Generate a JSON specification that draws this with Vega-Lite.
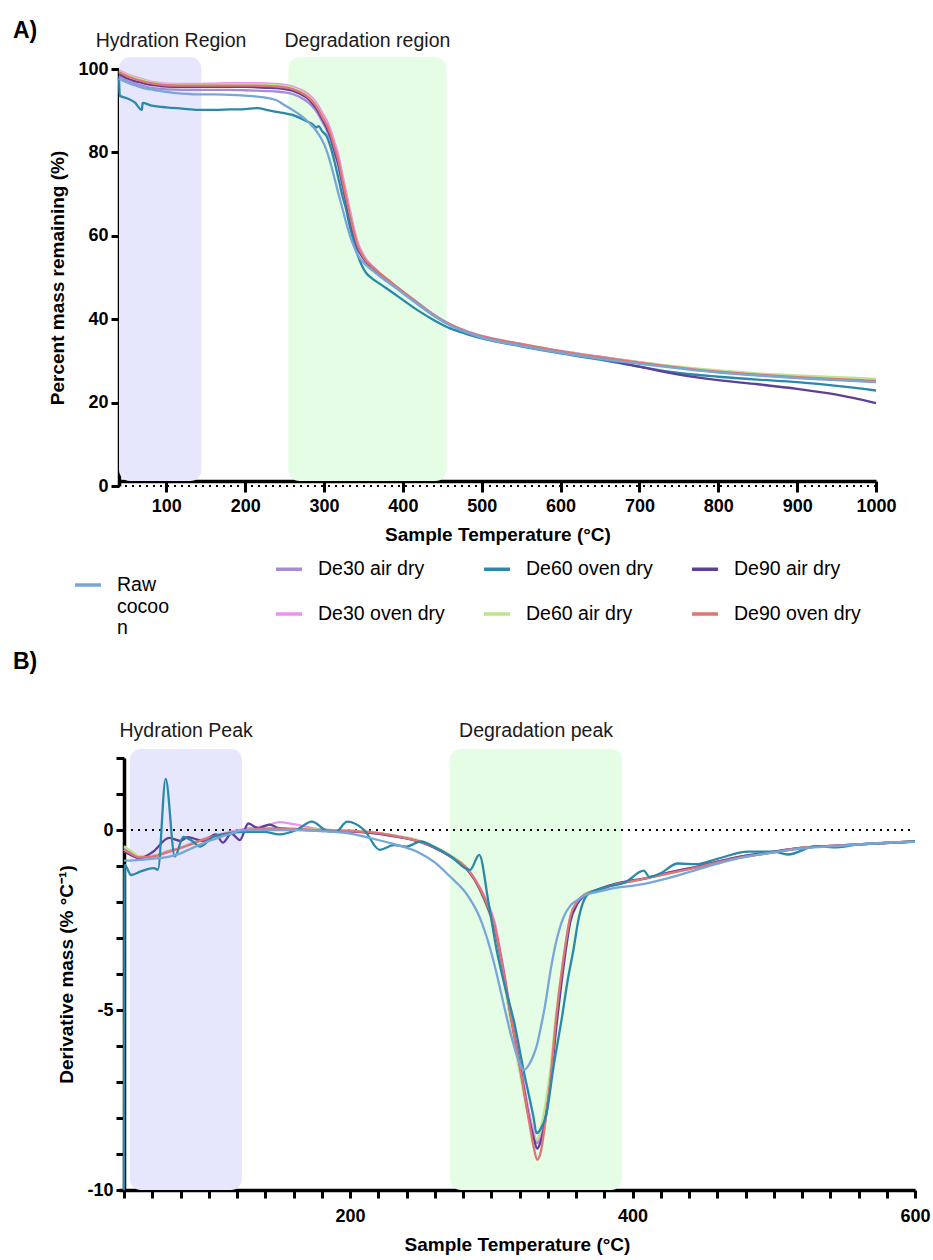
{
  "$schema": "https://vega.github.io/schema/vega-lite/v6.json",
  "background": "white",
  "padding": {"left": 13, "top": 20, "right": 10, "bottom": 5},
  "bounds": "flush",
  "spacing": 272,
  "config": {
    "font": "Liberation Sans",
    "view": {"stroke": null},
    "axis": {"grid": false, "domainColor": "black", "domainWidth": 3.5, "tickColor": "black", "tickWidth": 3, "labelFont": "Liberation Sans", "labelFontWeight": "bold", "labelFontSize": 18, "labelColor": "black", "titleFont": "Liberation Sans", "titleFontWeight": "bold", "titleFontSize": 19, "titleColor": "black", "labelFlush": false, "labelOverlap": false},
    "legend": {"labelFont": "Liberation Sans", "labelFontSize": 19.5, "labelColor": "black", "symbolType": "stroke", "symbolSize": 676, "symbolStrokeWidth": 3.5, "labelOffset": 14, "title": null}
  },
  "datasets": {
    "tga": [
      {"T":40,"Raw cocoon":97.6,"De30 air dry":98.3,"De30 oven dry":99.6,"De60 oven dry":98.0,"De60 air dry":99.4,"De90 air dry":98.8,"De90 oven dry":99.2},
      {"T":41,"De60 oven dry":93.6},
      {"T":50,"Raw cocoon":96.8,"De30 air dry":97.2,"De30 oven dry":98.8,"De60 oven dry":93.0,"De60 air dry":98.6,"De90 air dry":97.8,"De90 oven dry":98.3},
      {"T":60,"Raw cocoon":96.1,"De30 air dry":96.5,"De30 oven dry":98.1,"De60 oven dry":92.0,"De60 air dry":97.9,"De90 air dry":97.1,"De90 oven dry":97.6},
      {"T":69,"Raw cocoon":95.5,"De30 air dry":96.0,"De30 oven dry":97.6,"De60 oven dry":90.2,"De60 air dry":97.4,"De90 air dry":96.7,"De90 oven dry":97.1},
      {"T":70,"De60 oven dry":91.9},
      {"T":80,"Raw cocoon":95.1,"De30 air dry":95.5,"De30 oven dry":97.0,"De60 oven dry":91.3,"De60 air dry":96.8,"De90 air dry":96.2,"De90 oven dry":96.6},
      {"T":90,"Raw cocoon":94.8,"De30 air dry":95.3,"De30 oven dry":96.7,"De60 oven dry":91.0,"De60 air dry":96.5,"De90 air dry":96.0,"De90 oven dry":96.3},
      {"T":100,"Raw cocoon":94.5,"De30 air dry":95.1,"De30 oven dry":96.5,"De60 oven dry":90.8,"De60 air dry":96.3,"De90 air dry":95.8,"De90 oven dry":96.1},
      {"T":120,"Raw cocoon":94.1,"De30 air dry":95.0,"De30 oven dry":96.4,"De60 oven dry":90.5,"De60 air dry":96.2,"De90 air dry":95.7,"De90 oven dry":96.0},
      {"T":140,"Raw cocoon":93.9,"De30 air dry":95.0,"De30 oven dry":96.4,"De60 oven dry":90.2,"De60 air dry":96.2,"De90 air dry":95.7,"De90 oven dry":96.0},
      {"T":160,"Raw cocoon":93.9,"De30 air dry":95.0,"De30 oven dry":96.5,"De60 oven dry":90.2,"De60 air dry":96.2,"De90 air dry":95.7,"De90 oven dry":96.0},
      {"T":180,"Raw cocoon":93.8,"De30 air dry":95.0,"De30 oven dry":96.6,"De60 oven dry":90.3,"De60 air dry":96.3,"De90 air dry":95.7,"De90 oven dry":96.0},
      {"T":200,"Raw cocoon":93.6,"De30 air dry":94.9,"De30 oven dry":96.6,"De60 oven dry":90.4,"De60 air dry":96.3,"De90 air dry":95.7,"De90 oven dry":96.0},
      {"T":215,"Raw cocoon":93.4,"De30 air dry":94.8,"De30 oven dry":96.6,"De60 oven dry":90.6,"De60 air dry":96.3,"De90 air dry":95.6,"De90 oven dry":96.0},
      {"T":230,"Raw cocoon":93.0,"De30 air dry":94.7,"De30 oven dry":96.5,"De60 oven dry":90.1,"De60 air dry":96.2,"De90 air dry":95.5,"De90 oven dry":95.9},
      {"T":240,"Raw cocoon":92.5,"De30 air dry":94.6,"De30 oven dry":96.4,"De60 oven dry":89.7,"De60 air dry":96.1,"De90 air dry":95.4,"De90 oven dry":95.8},
      {"T":250,"Raw cocoon":91.3,"De30 air dry":94.4,"De30 oven dry":96.2,"De60 oven dry":89.4,"De60 air dry":95.9,"De90 air dry":95.2,"De90 oven dry":95.6},
      {"T":260,"Raw cocoon":90.2,"De30 air dry":94.0,"De30 oven dry":95.8,"De60 oven dry":89.0,"De60 air dry":95.5,"De90 air dry":94.8,"De90 oven dry":95.2},
      {"T":270,"Raw cocoon":88.9,"De30 air dry":93.2,"De30 oven dry":95.1,"De60 oven dry":88.2,"De60 air dry":94.7,"De90 air dry":94.0,"De90 oven dry":94.4},
      {"T":280,"Raw cocoon":87.3,"De30 air dry":92.0,"De30 oven dry":94.0,"De60 oven dry":87.3,"De60 air dry":93.5,"De90 air dry":92.8,"De90 oven dry":93.2},
      {"T":285,"Raw cocoon":86.3,"De30 air dry":91.1,"De30 oven dry":93.1,"De60 oven dry":86.8,"De60 air dry":92.6,"De90 air dry":91.8,"De90 oven dry":92.3},
      {"T":290,"Raw cocoon":85.2,"De30 air dry":89.9,"De30 oven dry":92.0,"De60 oven dry":86.0,"De60 air dry":91.4,"De90 air dry":90.6,"De90 oven dry":91.1},
      {"T":293,"Raw cocoon":84.4,"De30 air dry":89.0,"De30 oven dry":91.1,"De60 oven dry":86.3,"De60 air dry":90.4,"De90 air dry":89.7,"De90 oven dry":90.2},
      {"T":298,"Raw cocoon":82.8,"De30 air dry":87.3,"De30 oven dry":89.4,"De60 oven dry":85.0,"De60 air dry":88.6,"De90 air dry":87.9,"De90 oven dry":88.4},
      {"T":303,"Raw cocoon":80.6,"De30 air dry":85.5,"De30 oven dry":87.8,"De60 oven dry":84.0,"De60 air dry":86.9,"De90 air dry":86.1,"De90 oven dry":86.8},
      {"T":308,"Raw cocoon":77.6,"De30 air dry":83.2,"De30 oven dry":85.6,"De60 oven dry":81.5,"De60 air dry":84.6,"De90 air dry":83.8,"De90 oven dry":84.5},
      {"T":313,"Raw cocoon":74.0,"De30 air dry":80.0,"De30 oven dry":82.6,"De60 oven dry":78.0,"De60 air dry":81.4,"De90 air dry":80.6,"De90 oven dry":81.4},
      {"T":318,"Raw cocoon":70.3,"De30 air dry":76.8,"De30 oven dry":79.5,"De60 oven dry":74.0,"De60 air dry":78.2,"De90 air dry":77.3,"De90 oven dry":78.2},
      {"T":323,"Raw cocoon":66.8,"De30 air dry":72.4,"De30 oven dry":75.0,"De60 oven dry":69.8,"De60 air dry":73.8,"De90 air dry":72.8,"De90 oven dry":73.7},
      {"T":328,"Raw cocoon":63.2,"De30 air dry":68.0,"De30 oven dry":70.5,"De60 oven dry":66.4,"De60 air dry":69.3,"De90 air dry":68.4,"De90 oven dry":69.2},
      {"T":333,"Raw cocoon":60.0,"De30 air dry":63.8,"De30 oven dry":66.0,"De60 oven dry":62.0,"De60 air dry":64.9,"De90 air dry":64.1,"De90 oven dry":64.8},
      {"T":338,"Raw cocoon":57.4,"De30 air dry":60.0,"De30 oven dry":61.8,"De60 oven dry":58.5,"De60 air dry":60.9,"De90 air dry":60.2,"De90 oven dry":60.8},
      {"T":343,"Raw cocoon":55.3,"De30 air dry":56.8,"De30 oven dry":58.3,"De60 oven dry":55.2,"De60 air dry":57.6,"De90 air dry":57.0,"De90 oven dry":57.5},
      {"T":348,"Raw cocoon":54.0,"De30 air dry":55.1,"De30 oven dry":56.2,"De60 oven dry":52.9,"De60 air dry":55.7,"De90 air dry":55.2,"De90 oven dry":55.6},
      {"T":353,"Raw cocoon":53.0,"De30 air dry":53.8,"De30 oven dry":54.5,"De60 oven dry":51.2,"De60 air dry":54.2,"De90 air dry":53.9,"De90 oven dry":54.1},
      {"T":360,"Raw cocoon":51.9,"De30 air dry":52.6,"De30 oven dry":53.0,"De60 oven dry":49.9,"De60 air dry":52.8,"De90 air dry":52.6,"De90 oven dry":52.8},
      {"T":370,"Raw cocoon":50.4,"De30 air dry":51.0,"De30 oven dry":51.2,"De60 oven dry":48.6,"De60 air dry":51.1,"De90 air dry":51.0,"De90 oven dry":51.1},
      {"T":380,"Raw cocoon":49.0,"De30 air dry":49.5,"De30 oven dry":49.6,"De60 oven dry":47.3,"De60 air dry":49.6,"De90 air dry":49.5,"De90 oven dry":49.6},
      {"T":395,"Raw cocoon":46.9,"De30 air dry":47.3,"De30 oven dry":47.3,"De60 oven dry":45.3,"De60 air dry":47.3,"De90 air dry":47.2,"De90 oven dry":47.3},
      {"T":420,"Raw cocoon":43.4,"De30 air dry":43.8,"De30 oven dry":43.7,"De60 oven dry":42.0,"De60 air dry":43.7,"De90 air dry":43.6,"De90 oven dry":43.7},
      {"T":440,"Raw cocoon":40.7,"De30 air dry":41.0,"De30 oven dry":40.9,"De60 oven dry":39.7,"De60 air dry":40.9,"De90 air dry":40.8,"De90 oven dry":40.9},
      {"T":460,"Raw cocoon":38.5,"De30 air dry":38.8,"De30 oven dry":38.7,"De60 oven dry":37.8,"De60 air dry":38.7,"De90 air dry":38.6,"De90 oven dry":38.7},
      {"T":480,"Raw cocoon":36.9,"De30 air dry":37.2,"De30 oven dry":37.1,"De60 oven dry":36.5,"De60 air dry":37.1,"De90 air dry":37.0,"De90 oven dry":37.1},
      {"T":500,"Raw cocoon":35.6,"De30 air dry":36.0,"De30 oven dry":35.9,"De60 oven dry":35.4,"De60 air dry":35.9,"De90 air dry":35.8,"De90 oven dry":35.9},
      {"T":550,"Raw cocoon":33.6,"De30 air dry":34.1,"De30 oven dry":34.0,"De60 oven dry":33.5,"De60 air dry":34.0,"De90 air dry":33.9,"De90 oven dry":34.0},
      {"T":600,"Raw cocoon":31.9,"De30 air dry":32.4,"De30 oven dry":32.3,"De60 oven dry":31.8,"De60 air dry":32.3,"De90 air dry":32.2,"De90 oven dry":32.3},
      {"T":650,"Raw cocoon":30.5,"De30 air dry":31.0,"De30 oven dry":30.9,"De60 oven dry":30.3,"De60 air dry":30.9,"De90 air dry":30.6,"De90 oven dry":30.9},
      {"T":700,"Raw cocoon":29.3,"De30 air dry":29.7,"De30 oven dry":29.6,"De60 oven dry":28.6,"De60 air dry":29.7,"De90 air dry":28.6,"De90 oven dry":29.6},
      {"T":750,"Raw cocoon":28.2,"De30 air dry":28.4,"De30 oven dry":28.4,"De60 oven dry":27.1,"De60 air dry":28.6,"De90 air dry":26.7,"De90 oven dry":28.4},
      {"T":800,"Raw cocoon":27.2,"De30 air dry":27.4,"De30 oven dry":27.4,"De60 oven dry":26.2,"De60 air dry":27.7,"De90 air dry":25.4,"De90 oven dry":27.4},
      {"T":850,"Raw cocoon":26.5,"De30 air dry":26.6,"De30 oven dry":26.7,"De60 oven dry":25.5,"De60 air dry":27.0,"De90 air dry":24.4,"De90 oven dry":26.7},
      {"T":900,"Raw cocoon":25.9,"De30 air dry":26.0,"De30 oven dry":26.1,"De60 oven dry":24.9,"De60 air dry":26.5,"De90 air dry":23.3,"De90 oven dry":26.1},
      {"T":950,"Raw cocoon":25.4,"De30 air dry":25.5,"De30 oven dry":25.6,"De60 oven dry":24.0,"De60 air dry":26.1,"De90 air dry":21.9,"De90 oven dry":25.6},
      {"T":1000,"Raw cocoon":24.9,"De30 air dry":25.0,"De30 oven dry":25.1,"De60 oven dry":22.9,"De60 air dry":25.7,"De90 air dry":19.9,"De90 oven dry":25.2}
    ],
    "dtg": [
      {"T":40,"Raw cocoon":-0.85,"De30 air dry":-0.5,"De30 oven dry":-0.55,"De60 air dry":-0.45,"De90 air dry":-0.6,"De90 oven dry":-0.55},
      {"T":45,"Raw cocoon":-0.85,"De30 air dry":-0.62,"De30 oven dry":-0.68,"De60 air dry":-0.58,"De90 air dry":-0.7,"De90 oven dry":-0.66},
      {"T":51,"Raw cocoon":-0.83,"De30 air dry":-0.74,"De30 oven dry":-0.78,"De60 air dry":-0.72,"De90 air dry":-0.78,"De90 oven dry":-0.76},
      {"T":60,"Raw cocoon":-0.8,"De30 air dry":-0.72,"De30 oven dry":-0.74,"De60 air dry":-0.72,"De90 air dry":-0.62,"De90 oven dry":-0.74},
      {"T":72,"Raw cocoon":-0.74,"De30 air dry":-0.58,"De30 oven dry":-0.6,"De60 air dry":-0.6,"De90 air dry":-0.22,"De90 oven dry":-0.6},
      {"T":80,"Raw cocoon":-0.65,"De30 air dry":-0.5,"De30 oven dry":-0.5,"De60 air dry":-0.5,"De90 air dry":-0.3,"De90 oven dry":-0.5},
      {"T":85,"Raw cocoon":-0.56,"De30 air dry":-0.42,"De30 oven dry":-0.42,"De60 air dry":-0.43,"De90 air dry":-0.2,"De90 oven dry":-0.43},
      {"T":96,"Raw cocoon":-0.37,"De30 air dry":-0.26,"De30 oven dry":-0.26,"De60 air dry":-0.27,"De90 air dry":-0.3,"De90 oven dry":-0.27},
      {"T":105,"Raw cocoon":-0.24,"De30 air dry":-0.16,"De30 oven dry":-0.14,"De60 air dry":-0.16,"De90 air dry":-0.12,"De90 oven dry":-0.16},
      {"T":110,"Raw cocoon":-0.17,"De30 air dry":-0.12,"De30 oven dry":-0.1,"De60 air dry":-0.12,"De90 air dry":-0.35,"De90 oven dry":-0.12},
      {"T":116,"Raw cocoon":-0.1,"De30 air dry":-0.07,"De30 oven dry":-0.04,"De60 air dry":-0.07,"De90 air dry":-0.1,"De90 oven dry":-0.07},
      {"T":122,"Raw cocoon":-0.02,"De30 air dry":-0.03,"De30 oven dry":0.0,"De60 air dry":-0.03,"De90 air dry":-0.28,"De90 oven dry":-0.03},
      {"T":128,"Raw cocoon":0.0,"De30 air dry":0.0,"De30 oven dry":0.05,"De60 air dry":0.0,"De90 air dry":0.18,"De90 oven dry":0.0},
      {"T":135,"Raw cocoon":0.0,"De30 air dry":0.03,"De30 oven dry":0.08,"De60 air dry":0.03,"De90 air dry":0.05,"De90 oven dry":0.03},
      {"T":143,"Raw cocoon":0.0,"De30 air dry":0.04,"De30 oven dry":0.15,"De60 air dry":0.04,"De90 air dry":0.15,"De90 oven dry":0.04},
      {"T":150,"Raw cocoon":0.0,"De30 air dry":0.04,"De30 oven dry":0.22,"De60 air dry":0.04,"De90 air dry":0.05,"De90 oven dry":0.04},
      {"T":160,"Raw cocoon":0.0,"De30 air dry":0.03,"De30 oven dry":0.16,"De60 air dry":0.03,"De90 air dry":0.02,"De90 oven dry":0.03},
      {"T":179,"Raw cocoon":-0.03,"De30 air dry":0.0,"De30 oven dry":0.02,"De60 air dry":0.02,"De90 air dry":-0.02,"De90 oven dry":0.0},
      {"T":200,"Raw cocoon":-0.1,"De30 air dry":-0.03,"De30 oven dry":-0.02,"De60 air dry":-0.02,"De90 air dry":-0.04,"De90 oven dry":-0.03},
      {"T":214,"Raw cocoon":-0.22,"De30 air dry":-0.06,"De30 oven dry":-0.05,"De60 air dry":-0.05,"De90 air dry":-0.08,"De90 oven dry":-0.06},
      {"T":230,"Raw cocoon":-0.38,"De30 air dry":-0.15,"De30 oven dry":-0.15,"De60 air dry":-0.14,"De90 air dry":-0.17,"De90 oven dry":-0.15},
      {"T":250,"Raw cocoon":-0.65,"De30 air dry":-0.32,"De30 oven dry":-0.32,"De60 air dry":-0.3,"De90 air dry":-0.34,"De90 oven dry":-0.33},
      {"T":260,"Raw cocoon":-0.9,"De30 air dry":-0.48,"De30 oven dry":-0.48,"De60 air dry":-0.46,"De90 air dry":-0.5,"De90 oven dry":-0.48},
      {"T":271,"Raw cocoon":-1.3,"De30 air dry":-0.72,"De30 oven dry":-0.72,"De60 air dry":-0.7,"De90 air dry":-0.74,"De90 oven dry":-0.73},
      {"T":283,"Raw cocoon":-1.8,"De30 air dry":-1.08,"De30 oven dry":-1.06,"De60 air dry":-1.08,"De90 air dry":-1.1,"De90 oven dry":-1.08},
      {"T":292,"Raw cocoon":-2.44,"De30 air dry":-1.62,"De30 oven dry":-1.6,"De60 air dry":-1.68,"De90 air dry":-1.65,"De90 oven dry":-1.62},
      {"T":297,"Raw cocoon":-3.0,"De30 air dry":-2.05,"De30 oven dry":-2.0,"De60 air dry":-2.15,"De90 air dry":-2.1,"De90 oven dry":-2.05},
      {"T":302,"Raw cocoon":-3.7,"De30 air dry":-2.6,"De30 oven dry":-2.5,"De60 air dry":-2.75,"De90 air dry":-2.65,"De90 oven dry":-2.6},
      {"T":308,"Raw cocoon":-4.7,"De30 air dry":-3.75,"De30 oven dry":-3.7,"De60 air dry":-3.95,"De90 air dry":-3.8,"De90 oven dry":-3.8},
      {"T":314,"Raw cocoon":-5.7,"De30 air dry":-5.15,"De30 oven dry":-5.1,"De60 air dry":-5.4,"De90 air dry":-5.2,"De90 oven dry":-5.2},
      {"T":321,"Raw cocoon":-6.55,"De30 air dry":-6.65,"De30 oven dry":-6.6,"De60 air dry":-6.9,"De90 air dry":-6.7,"De90 oven dry":-6.75},
      {"T":323,"Raw cocoon":-6.67},
      {"T":327,"Raw cocoon":-6.5,"De30 air dry":-7.95,"De30 oven dry":-7.9,"De60 air dry":-8.1,"De90 air dry":-8.05,"De90 oven dry":-8.15},
      {"T":330,"Raw cocoon":-6.25,"De30 air dry":-8.45,"De30 oven dry":-8.4,"De60 air dry":-8.5,"De90 air dry":-8.55,"De90 oven dry":-8.8},
      {"T":332.5,"Raw cocoon":-5.95,"De30 air dry":-8.7,"De30 oven dry":-8.62,"De60 air dry":-8.6,"De90 air dry":-8.85,"De90 oven dry":-9.16},
      {"T":335,"Raw cocoon":-5.5,"De30 air dry":-8.5,"De30 oven dry":-8.45,"De60 air dry":-8.3,"De90 air dry":-8.65,"De90 oven dry":-8.95},
      {"T":338,"Raw cocoon":-4.9,"De30 air dry":-7.95,"De30 oven dry":-7.9,"De60 air dry":-7.7,"De90 air dry":-8.1,"De90 oven dry":-8.2},
      {"T":342,"Raw cocoon":-3.9,"De30 air dry":-6.85,"De30 oven dry":-6.8,"De60 air dry":-6.6,"De90 air dry":-7.0,"De90 oven dry":-6.9},
      {"T":346,"Raw cocoon":-3.1,"De30 air dry":-5.35,"De30 oven dry":-5.3,"De60 air dry":-5.1,"De90 air dry":-5.5,"De90 oven dry":-5.2},
      {"T":351,"Raw cocoon":-2.44,"De30 air dry":-3.7,"De30 oven dry":-3.7,"De60 air dry":-3.6,"De90 air dry":-3.85,"De90 oven dry":-3.6},
      {"T":356,"Raw cocoon":-2.1,"De30 air dry":-2.45,"De30 oven dry":-2.44,"De60 air dry":-2.4,"De90 air dry":-2.55,"De90 oven dry":-2.4},
      {"T":361,"Raw cocoon":-1.95,"De30 air dry":-2.0,"De30 oven dry":-2.0,"De60 air dry":-1.98,"De90 air dry":-2.05,"De90 oven dry":-1.98},
      {"T":366,"Raw cocoon":-1.82,"De30 air dry":-1.8,"De30 oven dry":-1.8,"De60 air dry":-1.78,"De90 air dry":-1.82,"De90 oven dry":-1.8},
      {"T":375,"Raw cocoon":-1.72,"De30 air dry":-1.68,"De30 oven dry":-1.68,"De60 air dry":-1.66,"De90 air dry":-1.66,"De90 oven dry":-1.68},
      {"T":389,"Raw cocoon":-1.6,"De30 air dry":-1.5,"De30 oven dry":-1.5,"De60 air dry":-1.49,"De90 air dry":-1.48,"De90 oven dry":-1.5},
      {"T":400,"Raw cocoon":-1.55,"De30 air dry":-1.42,"De30 oven dry":-1.4,"De60 air dry":-1.42,"De90 air dry":-1.4,"De90 oven dry":-1.42},
      {"T":405,"Raw cocoon":-1.52,"De30 air dry":-1.38,"De30 oven dry":-1.38,"De60 air dry":-1.38,"De90 air dry":-1.37,"De90 oven dry":-1.38},
      {"T":424,"Raw cocoon":-1.35,"De30 air dry":-1.22,"De30 oven dry":-1.2,"De60 air dry":-1.22,"De90 air dry":-1.2,"De90 oven dry":-1.22},
      {"T":450,"Raw cocoon":-1.05,"De30 air dry":-1.0,"De30 oven dry":-0.98,"De60 air dry":-1.0,"De90 air dry":-0.98,"De90 oven dry":-1.0},
      {"T":471,"Raw cocoon":-0.82,"De30 air dry":-0.8,"De30 oven dry":-0.78,"De60 air dry":-0.8,"De90 air dry":-0.78,"De90 oven dry":-0.8},
      {"T":500,"Raw cocoon":-0.62,"De30 air dry":-0.62,"De30 oven dry":-0.6,"De60 air dry":-0.62,"De90 air dry":-0.6,"De90 oven dry":-0.62},
      {"T":519,"Raw cocoon":-0.52,"De30 air dry":-0.5,"De30 oven dry":-0.5,"De60 air dry":-0.5,"De90 air dry":-0.5,"De90 oven dry":-0.5},
      {"T":550,"Raw cocoon":-0.43,"De30 air dry":-0.42,"De30 oven dry":-0.42,"De60 air dry":-0.42,"De90 air dry":-0.42,"De90 oven dry":-0.42},
      {"T":589,"Raw cocoon":-0.34,"De30 air dry":-0.34,"De30 oven dry":-0.34,"De60 air dry":-0.34,"De90 air dry":-0.34,"De90 oven dry":-0.34},
      {"T":600,"Raw cocoon":-0.33,"De30 air dry":-0.32,"De30 oven dry":-0.32,"De60 air dry":-0.32,"De90 air dry":-0.32,"De90 oven dry":-0.32},
      {"T":40,"De60 oven dry":-10},
      {"T":40.5,"De60 oven dry":-0.97},
      {"T":45,"De60 oven dry":-1.25},
      {"T":52,"De60 oven dry":-1.15},
      {"T":61,"De60 oven dry":-1.06},
      {"T":64,"De60 oven dry":-1.1},
      {"T":69.5,"De60 oven dry":1.42},
      {"T":76,"De60 oven dry":-0.74},
      {"T":82,"De60 oven dry":-0.19},
      {"T":88,"De60 oven dry":-0.3},
      {"T":94,"De60 oven dry":-0.46},
      {"T":103,"De60 oven dry":-0.19},
      {"T":115,"De60 oven dry":-0.09},
      {"T":125,"De60 oven dry":-0.05},
      {"T":139,"De60 oven dry":-0.05},
      {"T":150,"De60 oven dry":-0.12},
      {"T":162,"De60 oven dry":0.0},
      {"T":173,"De60 oven dry":0.23},
      {"T":184,"De60 oven dry":-0.03},
      {"T":190,"De60 oven dry":-0.05},
      {"T":198,"De60 oven dry":0.23},
      {"T":210,"De60 oven dry":0.0},
      {"T":221,"De60 oven dry":-0.55},
      {"T":231,"De60 oven dry":-0.42},
      {"T":240,"De60 oven dry":-0.46},
      {"T":250,"De60 oven dry":-0.32},
      {"T":260,"De60 oven dry":-0.48},
      {"T":271,"De60 oven dry":-0.72},
      {"T":285,"De60 oven dry":-1.11},
      {"T":291.5,"De60 oven dry":-0.69},
      {"T":298,"De60 oven dry":-2.0},
      {"T":304,"De60 oven dry":-3.37},
      {"T":310,"De60 oven dry":-4.4},
      {"T":316,"De60 oven dry":-5.3},
      {"T":323,"De60 oven dry":-6.7},
      {"T":330,"De60 oven dry":-8.0},
      {"T":332,"De60 oven dry":-8.42},
      {"T":335,"De60 oven dry":-8.3},
      {"T":339,"De60 oven dry":-7.9},
      {"T":344,"De60 oven dry":-6.6},
      {"T":350,"De60 oven dry":-5.22},
      {"T":354,"De60 oven dry":-4.2},
      {"T":358,"De60 oven dry":-3.37},
      {"T":362,"De60 oven dry":-2.44},
      {"T":368,"De60 oven dry":-1.8},
      {"T":380,"De60 oven dry":-1.6},
      {"T":395,"De60 oven dry":-1.45},
      {"T":408,"De60 oven dry":-1.13},
      {"T":412,"De60 oven dry":-1.3},
      {"T":420,"De60 oven dry":-1.2},
      {"T":432,"De60 oven dry":-0.93},
      {"T":445,"De60 oven dry":-0.95},
      {"T":460,"De60 oven dry":-0.8},
      {"T":482,"De60 oven dry":-0.6},
      {"T":500,"De60 oven dry":-0.6},
      {"T":510,"De60 oven dry":-0.68},
      {"T":530,"De60 oven dry":-0.45},
      {"T":545,"De60 oven dry":-0.48},
      {"T":560,"De60 oven dry":-0.4},
      {"T":580,"De60 oven dry":-0.36},
      {"T":600,"De60 oven dry":-0.32}
    ]
  },
  "vconcat": [
    {
      "width": 757,
      "height": 417,
      "title": {"text": "A)", "anchor": "start", "frame": "group", "dx": -106, "dy": 16, "fontSize": 23, "fontWeight": "bold", "color": "black", "font": "Liberation Sans", "offset": 4},
      "layer": [
        {
          "data": {"values": [
            {"region": "Hydration", "x1": 40, "x2": 144.4, "y1": 1.2, "y2": 102.8},
            {"region": "Degradation", "x1": 254.8, "x2": 455.3, "y1": 1.2, "y2": 102.8}
          ]},
          "mark": {"type": "rect", "cornerRadius": 11},
          "encoding": {
            "x": {"field": "x1", "type": "quantitative", "title": "Sample Temperature (°C)", "scale": {"domain": [40, 1000], "nice": false, "zero": false},
                  "axis": {"values": [100, 200, 300, 400, 500, 600, 700, 800, 900, 1000], "tickCount": 40, "format": "d", "offset": -5, "tickSize": 11, "labelPadding": 5, "titlePadding": 10}},
            "x2": {"field": "x2"},
            "y": {"field": "y1", "type": "quantitative", "title": "Percent mass remaining (%)", "scale": {"domain": [0, 100], "nice": false, "zero": false},
                  "axis": {"values": [0, 20, 40, 60, 80, 100], "tickCount": 20, "tickSize": 8, "labelPadding": 3, "titlePadding": 10}},
            "y2": {"field": "y2"},
            "fill": {"field": "region", "type": "nominal", "scale": {"domain": ["Hydration", "Degradation"], "range": ["#e6e6fc", "#e4fde4"]}, "legend": null}
          }
        },
        {
          "data": {"values": [{"v": 0}]},
          "mark": {"type": "rule", "strokeDash": [2, 5], "strokeWidth": 2, "color": "black"},
          "encoding": {"y": {"field": "v", "type": "quantitative", "title": "Percent mass remaining (%)"}}
        },
        {
          "data": {"values": [
            {"label": "Hydration Region", "T": 106, "v": 106.7},
            {"label": "Degradation region", "T": 355, "v": 106.7}
          ]},
          "mark": {"type": "text", "fontSize": 19.5, "color": "#1a1a1a", "baseline": "middle", "align": "center"},
          "encoding": {
            "x": {"field": "T", "type": "quantitative", "title": "Sample Temperature (°C)"},
            "y": {"field": "v", "type": "quantitative", "title": "Percent mass remaining (%)"},
            "text": {"field": "label"}
          }
        },
        {
          "data": {"name": "tga"},
          "transform": [
            {"fold": ["Raw cocoon", "De30 air dry", "De30 oven dry", "De60 oven dry", "De60 air dry", "De90 air dry", "De90 oven dry"], "as": ["series", "value"]},
            {"filter": "isValid(datum.value)"},
            {"filter": "datum.series != 'Raw cocoon'"}
          ],
          "mark": {"type": "line", "strokeWidth": 2.3, "interpolate": "monotone"},
          "encoding": {
            "x": {"field": "T", "type": "quantitative", "title": "Sample Temperature (°C)"},
            "y": {"field": "value", "type": "quantitative", "title": "Percent mass remaining (%)"},
            "color": {"field": "series", "type": "nominal",
              "scale": {"domain": ["De30 air dry", "De30 oven dry", "De60 oven dry", "De60 air dry", "De90 air dry", "De90 oven dry"], "range": ["#a68bd6", "#ee90ec", "#2a88a8", "#bde38f", "#5e3f99", "#e07575"]},
              "legend": {"orient": "none", "legendX": 155, "legendY": 485, "columns": 3, "gridAlign": "all", "columnPadding": 32, "rowPadding": 20}}
          }
        },
        {
          "data": {"name": "tga"},
          "transform": [
            {"fold": ["Raw cocoon", "De30 air dry", "De30 oven dry", "De60 oven dry", "De60 air dry", "De90 air dry", "De90 oven dry"], "as": ["series", "value"]},
            {"filter": "isValid(datum.value)"},
            {"filter": "datum.series == 'Raw cocoon'"}
          ],
          "mark": {"type": "line", "strokeWidth": 2.3, "interpolate": "monotone"},
          "encoding": {
            "x": {"field": "T", "type": "quantitative", "title": "Sample Temperature (°C)"},
            "y": {"field": "value", "type": "quantitative", "title": "Percent mass remaining (%)"},
            "stroke": {"field": "series", "type": "nominal",
              "scale": {"domain": ["Raw cocoon"], "range": ["#78a6d8"]},
              "legend": {"orient": "none", "legendX": -46, "legendY": 501, "labelExpr": "['Raw', 'cocoo', 'n']"}}
          }
        }
      ]
    },
    {
      "width": 796,
      "height": 432,
      "title": {"text": "B)", "anchor": "start", "frame": "group", "dx": -106, "fontSize": 23, "fontWeight": "bold", "color": "black", "font": "Liberation Sans", "offset": 47},
      "layer": [
        {
          "data": {"values": [
            {"region": "Hydration", "x1": 44.2, "x2": 123.5, "y1": -10, "y2": 2.25},
            {"region": "Degradation", "x1": 270.8, "x2": 392.6, "y1": -10, "y2": 2.25}
          ]},
          "mark": {"type": "rect", "cornerRadius": 11},
          "encoding": {
            "x": {"field": "x1", "type": "quantitative", "title": "Sample Temperature (°C)", "scale": {"domain": [36.46, 600], "nice": false, "zero": false},
                  "axis": {"values": [40, 60, 80, 100, 120, 140, 160, 180, 200, 220, 240, 260, 280, 300, 320, 340, 360, 380, 400, 420, 440, 460, 480, 500, 520, 540, 560, 580, 600], "tickCount": 60, "labelExpr": "datum.value == 200 ? '200' : datum.value == 400 ? '400' : datum.value == 600 ? '600' : ''", "tickSize": 8, "labelPadding": 9, "titlePadding": 10}},
            "x2": {"field": "x2"},
            "y": {"field": "y1", "type": "quantitative", "title": "Derivative mass (% °C⁻¹)", "scale": {"domain": [-10, 2], "nice": false, "zero": false},
                  "axis": {"values": [-10, -9, -8, -7, -6, -5, -4, -3, -2, -1, 0, 1, 2], "tickCount": 30, "labelExpr": "datum.value == 0 ? '0' : datum.value == -5 ? '-5' : datum.value == -10 ? '-10' : ''", "labelOverlap": false, "offset": -5, "tickSize": 8, "labelPadding": 3, "titlePadding": 10}},
            "y2": {"field": "y2"},
            "fill": {"field": "region", "type": "nominal", "scale": {"domain": ["Hydration", "Degradation"], "range": ["#e6e6fc", "#e4fde4"]}, "legend": null}
          }
        },
        {
          "data": {"values": [{"v": 0, "a": 40, "b": 600}]},
          "mark": {"type": "rule", "strokeDash": [2, 5], "strokeWidth": 2, "color": "black"},
          "encoding": {
            "y": {"field": "v", "type": "quantitative", "title": "Derivative mass (% °C⁻¹)"},
            "x": {"field": "a", "type": "quantitative", "title": "Sample Temperature (°C)"},
            "x2": {"field": "b"}
          }
        },
        {
          "data": {"values": [
            {"label": "Hydration Peak", "T": 84, "v": 2.75},
            {"label": "Degradation peak", "T": 331.7, "v": 2.75}
          ]},
          "mark": {"type": "text", "fontSize": 19.5, "color": "#1a1a1a", "baseline": "middle", "align": "center"},
          "encoding": {
            "x": {"field": "T", "type": "quantitative", "title": "Sample Temperature (°C)"},
            "y": {"field": "v", "type": "quantitative", "title": "Derivative mass (% °C⁻¹)"},
            "text": {"field": "label"}
          }
        },
        {
          "data": {"name": "dtg"},
          "transform": [
            {"fold": ["Raw cocoon", "De30 air dry", "De30 oven dry", "De60 oven dry", "De60 air dry", "De90 air dry", "De90 oven dry"], "as": ["series", "value"]},
            {"filter": "isValid(datum.value)"},
            {"filter": "datum.series != 'Raw cocoon'"}
          ],
          "mark": {"type": "line", "strokeWidth": 2.3, "interpolate": "monotone"},
          "encoding": {
            "x": {"field": "T", "type": "quantitative", "title": "Sample Temperature (°C)"},
            "y": {"field": "value", "type": "quantitative", "title": "Derivative mass (% °C⁻¹)"},
            "color": {"field": "series", "type": "nominal",
              "scale": {"domain": ["De30 air dry", "De30 oven dry", "De60 oven dry", "De60 air dry", "De90 air dry", "De90 oven dry"], "range": ["#a68bd6", "#ee90ec", "#2a88a8", "#bde38f", "#5e3f99", "#e07575"]}}
          }
        },
        {
          "data": {"name": "dtg"},
          "transform": [
            {"fold": ["Raw cocoon", "De30 air dry", "De30 oven dry", "De60 oven dry", "De60 air dry", "De90 air dry", "De90 oven dry"], "as": ["series", "value"]},
            {"filter": "isValid(datum.value)"},
            {"filter": "datum.series == 'Raw cocoon'"}
          ],
          "mark": {"type": "line", "strokeWidth": 2.3, "interpolate": "monotone"},
          "encoding": {
            "x": {"field": "T", "type": "quantitative", "title": "Sample Temperature (°C)"},
            "y": {"field": "value", "type": "quantitative", "title": "Derivative mass (% °C⁻¹)"},
            "stroke": {"field": "series", "type": "nominal", "scale": {"domain": ["Raw cocoon"], "range": ["#78a6d8"]}}
          }
        }
      ]
    }
  ]
}
